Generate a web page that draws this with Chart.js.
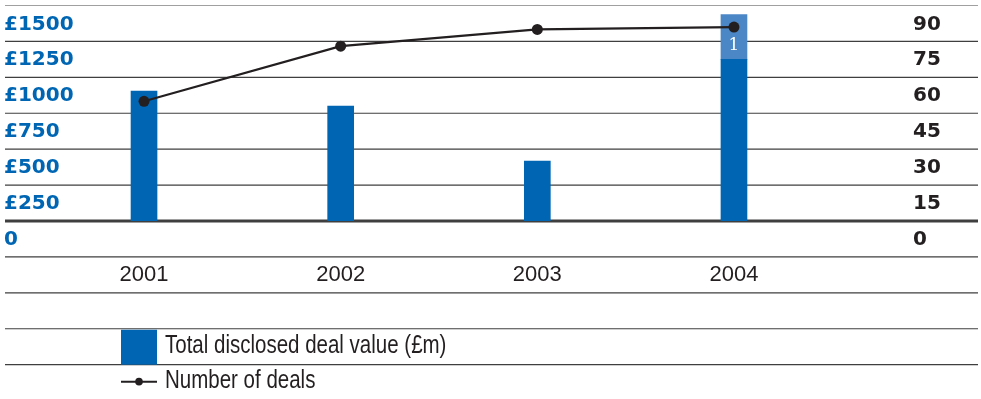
<!DOCTYPE html>
<html>
<head>
<meta charset="utf-8">
<script src="https://cdn.jsdelivr.net/npm/chart.js@4/dist/chart.umd.min.js"></script>
<style>
  html, body { margin: 0; padding: 0; background: #fff; }
  canvas { display: block; }
</style>
</head>
<body>
<canvas id="dealsChart" width="981" height="399"></canvas>
<script>
const years = ['2001', '2002', '2003', '2004'];
const dealValue = [905, 800, 417, 1125];
const dealValueExtra = [null, null, null, 312];
const dealCount = [50, 73, 80, 81];
const valueTicks = [0, 250, 500, 750, 1000, 1250, 1500];
const countTicks = [0, 15, 30, 45, 60, 75, 90];
const footnote = '1';

const BLUE = '#0066b3';
const LIGHT_BLUE = '#4b87c7';
const INK = '#231f20';

// condensed text: regular sans squeezed horizontally
const narrowText = (ctx, text, x, y, size) => {
    ctx.save();
    ctx.font = size + 'px "Liberation Sans", Arial, sans-serif';
    ctx.translate(x, y);
    ctx.scale(0.82, 1);
    ctx.fillText(text, 0, 0);
    ctx.restore();
};

// grid rows, axis labels and the hand-made legend
const tablePlugin = {
    id: 'table',
    beforeDatasetsDraw(chart) {
        const { ctx, scales: { y } } = chart;
        const base = y.getPixelForValue(0);
        const step = base - y.getPixelForValue(valueTicks[1]);
        ctx.save();
        const rows = valueTicks.map((v) => y.getPixelForValue(v));
        for (let k = 1; k <= 4; k++) rows.push(base + k * step);
        rows.forEach((py, i) => {
            const top = i === valueTicks.length - 1;
            ctx.beginPath();
            ctx.strokeStyle = top ? '#a0a0a0' : '#3f3f3f';
            ctx.lineWidth = i === 0 ? 3 : 1.2;
            ctx.moveTo(5, py);
            ctx.lineTo(978, py);
            ctx.stroke();
        });
        ctx.restore();
    },
    afterDraw(chart) {
        const { ctx, scales: { x, y, y1 } } = chart;
        const base = y.getPixelForValue(0);
        const step = base - y.getPixelForValue(valueTicks[1]);
        ctx.save();
        ctx.textBaseline = 'alphabetic';
        ctx.font = 'bold 20px "DejaVu Sans", sans-serif';
        ctx.textAlign = 'left';
        ctx.fillStyle = BLUE;
        valueTicks.forEach((v) => {
            const label = v === 0 ? '0' : '£' + v;
            ctx.fillText(label, 4, y.getPixelForValue(v) + 24);
        });
        ctx.fillStyle = INK;
        countTicks.forEach((v) => {
            ctx.fillText(String(v), 913, y1.getPixelForValue(v) + 24);
        });

        // category labels in the row below the baseline
        ctx.font = '22px "Liberation Sans", sans-serif';
        ctx.textAlign = 'center';
        years.forEach((yr, i) => {
            ctx.fillText(yr, x.getPixelForValue(i), base + step + 24);
        });

        // footnote marker on the extra 2004 segment
        const seg = chart.getDatasetMeta(1).data[3];
        ctx.font = '17px "DejaVu Serif", serif';
        ctx.fillStyle = '#ffffff';
        ctx.fillText(footnote, seg.x, seg.y + 35);

        // legend
        const lx = 121;
        const row3 = base + 3 * step;
        const row4 = base + 4 * step;
        ctx.fillStyle = BLUE;
        ctx.fillRect(lx, row3 + 1, 36, step - 1);
        ctx.textAlign = 'left';
        ctx.fillStyle = INK;
        narrowText(ctx, chart.data.datasets[0].label, 165, row3 + 24, 25);
        ctx.beginPath();
        ctx.strokeStyle = INK;
        ctx.lineWidth = 2;
        ctx.moveTo(lx, row4 + 17);
        ctx.lineTo(lx + 36, row4 + 17);
        ctx.stroke();
        ctx.beginPath();
        ctx.arc(lx + 18, row4 + 17, 3.8, 0, Math.PI * 2);
        ctx.fill();
        narrowText(ctx, chart.data.datasets[2].label, 165, row4 + 23, 25);
        ctx.restore();
    },
};

new Chart(document.getElementById('dealsChart'), {
    type: 'bar',
    data: {
        labels: years,
        datasets: [
            {
                label: 'Total disclosed deal value (£m)',
                data: dealValue,
                backgroundColor: BLUE,
                borderWidth: 0,
                barThickness: 26,
                yAxisID: 'y',
                stack: 'value',
                order: 2,
            },
            {
                label: 'Total disclosed deal value, extra',
                data: dealValueExtra,
                backgroundColor: LIGHT_BLUE,
                borderWidth: 0,
                barThickness: 26,
                yAxisID: 'y',
                stack: 'value',
                order: 2,
            },
            {
                type: 'line',
                label: 'Number of deals',
                data: dealCount,
                borderColor: INK,
                borderWidth: 2.2,
                pointRadius: 5.5,
                pointBackgroundColor: INK,
                pointBorderWidth: 0,
                tension: 0,
                yAxisID: 'y1',
                order: 0,
            },
        ],
    },
    options: {
        responsive: false,
        animation: false,
        layout: { padding: { left: 45.7, right: 148.7, top: 5, bottom: 178 } },
        plugins: { legend: { display: false }, tooltip: { enabled: false } },
        scales: {
            x: { display: false, stacked: true },
            y: { display: false, stacked: true, min: 0, max: 1500 },
            y1: { display: false, position: 'right', min: 0, max: 90 },
        },
    },
    plugins: [tablePlugin],
});
</script>
</body>
</html>
